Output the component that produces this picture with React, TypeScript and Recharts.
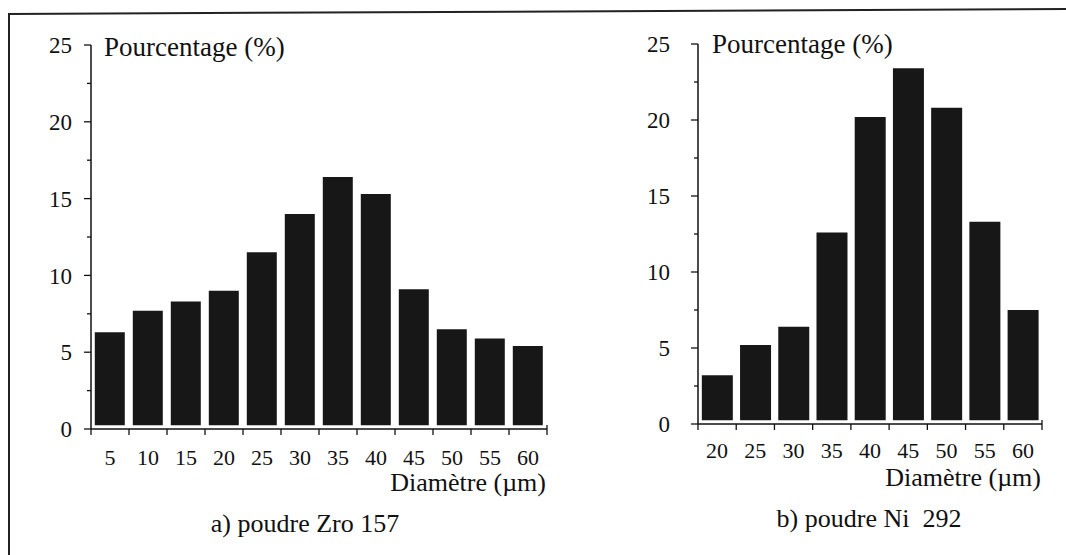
import { BarChart, Bar, XAxis, YAxis } from 'recharts';

const zroDiameters = ['5', '10', '15', '20', '25', '30', '35', '40', '45', '50', '55', '60'];
const zroPercent = [6.3, 7.7, 8.3, 9.0, 11.5, 14.0, 16.4, 15.3, 9.1, 6.5, 5.9, 5.4];

const niDiameters = ['20', '25', '30', '35', '40', '45', '50', '55', '60'];
const niPercent = [3.2, 5.2, 6.4, 12.6, 20.2, 23.4, 20.8, 13.3, 7.5];

const yTicks = [0, 2.5, 5, 7.5, 10, 12.5, 15, 17.5, 20, 22.5, 25];

const FONT = "'Liberation Serif', Tinos, 'DejaVu Serif', serif";
const INK = '#111';
// bars in the scan sit a hair above the axis line
const BASE = 0.25;

interface PanelProps {
  left: number;
  width: number;
  axisX: number;
  axisY: number;
  top: number;
  rightMargin: number;
  labels: string[];
  values: number[];
  yLabelGap: number;
  xLabelY: number;
  yTitle: { x: number; y: number };
  xTitle: { right: number; y: number };
  caption: { cx: number; y: number; text: string };
}

const YTick = (props: any) => {
  const { y, payload, axisX, gap } = props;
  const v = payload.value;
  const major = v % 5 === 0;
  return (
    <g>
      <line x1={axisX} x2={axisX - (major ? 7 : 4)} y1={y} y2={y} stroke={INK} strokeWidth={1.3} />
      {major && (
        <text x={axisX - gap} y={y} dy="0.36em" textAnchor="end" style={{ fontFamily: FONT }} fontSize={23} fill={INK}>
          {v}
        </text>
      )}
    </g>
  );
};

const XTick = (props: any) => {
  const { x, payload, index, band, count, axisY, labelY } = props;
  return (
    <g>
      <line x1={x - band / 2} x2={x - band / 2} y1={axisY} y2={axisY + 6} stroke={INK} strokeWidth={1.3} />
      {index === count - 1 && (
        <line x1={x + band / 2} x2={x + band / 2} y1={axisY - 4} y2={axisY + 6} stroke={INK} strokeWidth={1.3} />
      )}
      <text x={x} y={labelY} dy="0.36em" textAnchor="middle" style={{ fontFamily: FONT }} fontSize={22} fill={INK}>
        {payload.value}
      </text>
    </g>
  );
};

const textStyle = { position: 'absolute' as const, fontFamily: FONT, color: INK, whiteSpace: 'pre' as const, lineHeight: '30px' };

const Panel = (p: PanelProps) => {
  const data = p.labels.map((d, i) => ({ diam: d, pct: p.values[i] }));
  const height = 555;
  const plotW = p.width - (p.axisX - p.left) - p.rightMargin;
  const band = plotW / p.labels.length;
  const localAxisX = p.axisX - p.left;
  return (
    <div style={{ position: 'absolute', left: p.left, top: 0, width: p.width, height }}>
      <BarChart
        width={p.width}
        height={height}
        data={data}
        margin={{ top: p.top, right: p.rightMargin, left: 0, bottom: height - p.axisY - 30 }}
        barCategoryGap="10%"
      >
        <XAxis
          dataKey="diam"
          height={30}
          interval={0}
          axisLine={{ stroke: INK, strokeWidth: 1.5 }}
          tickLine={false}
          tick={(t: any) => (
            <XTick {...t} band={band} count={p.labels.length} axisY={p.axisY} labelY={p.xLabelY} />
          )}
        />
        <YAxis
          type="number"
          domain={[0, 25]}
          ticks={yTicks}
          width={localAxisX}
          interval={0}
          axisLine={{ stroke: INK, strokeWidth: 1.5 }}
          tickLine={false}
          tick={(t: any) => <YTick {...t} axisX={localAxisX} gap={p.yLabelGap} />}
        />
        <Bar dataKey={(d: any) => [BASE, d.pct]} fill="#171717" isAnimationActive={false} />
      </BarChart>
      <div style={{ ...textStyle, left: p.yTitle.x - p.left, top: p.yTitle.y - 15, fontSize: 27 }}>
        Pourcentage (%)
      </div>
      <div style={{ ...textStyle, right: p.left + p.width - p.xTitle.right, top: p.xTitle.y - 15, fontSize: 26 }}>
        Diamètre (µm)
      </div>
      <div
        style={{
          ...textStyle,
          left: p.caption.cx - p.left - 150,
          width: 300,
          textAlign: 'center',
          top: p.caption.y - 15,
          fontSize: 26,
        }}
      >
        {p.caption.text}
      </div>
    </div>
  );
};

export default function App() {
  return (
    <div style={{ position: 'absolute', left: 0, top: 0, width: 1066, height: 555, background: '#fff', overflow: 'hidden' }}>
      <svg width={1066} height={555} style={{ position: 'absolute', left: 0, top: 0 }}>
        <line x1={8} y1={14} x2={1066} y2={9} stroke="#222" strokeWidth={2} />
        <line x1={9} y1={14} x2={9} y2={555} stroke="#222" strokeWidth={2} />
      </svg>
      <Panel
        left={0}
        width={560}
        axisX={91}
        axisY={429}
        top={45}
        rightMargin={13}
        labels={zroDiameters}
        values={zroPercent}
        yLabelGap={19}
        xLabelY={457}
        yTitle={{ x: 104, y: 47 }}
        xTitle={{ right: 546, y: 483 }}
        caption={{ cx: 305, y: 524, text: 'a) poudre Zro 157' }}
      />
      <Panel
        left={560}
        width={506}
        axisX={698}
        axisY={424}
        top={44}
        rightMargin={24}
        labels={niDiameters}
        values={niPercent}
        yLabelGap={28}
        xLabelY={450}
        yTitle={{ x: 712, y: 44 }}
        xTitle={{ right: 1041, y: 478 }}
        caption={{ cx: 869, y: 519, text: 'b) poudre Ni  292' }}
      />
    </div>
  );
}
